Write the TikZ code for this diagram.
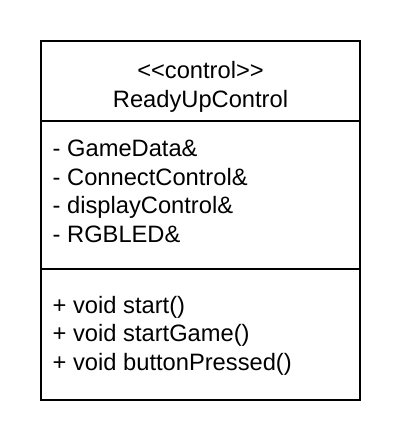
\documentclass[tikz,border=0pt]{standalone}
\usepackage{fontspec}
\setmainfont{Liberation Sans}
\begin{document}
\begin{tikzpicture}[x=1pt,y=-1pt,
  umltext/.style={inner sep=0pt,font=\fontsize{23.7}{28.5}\selectfont},
  member/.style={umltext,anchor=base west},
  title/.style={umltext,anchor=base},
  boxline/.style={line width=2pt,draw=black}]
\useasboundingbox (0,0) rectangle (404,448);
\draw[boxline] (41,41) rectangle (360,400);
\coordinate (d1l) at (41,120.5);
\coordinate (d1r) at (360,120.5);
\coordinate (d2l) at (41,268.5);
\coordinate (d2r) at (360,268.5);
\draw[boxline] (d1l) -- (d1r);
\draw[boxline] (d2l) -- (d2r);
\node[title] (stereo) at (200.5,78.8) {{<}{<}control{>}{>}};
\node[title] (name) at (200.5,107.3) {ReadyUpControl};
\node[member] (a1) at (52.5,156.7) {- GameData\&};
\node[member] (a2) at (52.5,185.2) {- ConnectControl\&};
\node[member] (a3) at (52.5,213.7) {- displayControl\&};
\node[member] (a4) at (52.5,242.2) {- RGBLED\&};
\node[member] (m1) at (52.5,313.3) {+ void start()};
\node[member] (m2) at (52.5,341.8) {+ void startGame()};
\node[member] (m3) at (52.5,370.3) {+ void buttonPressed()};
\end{tikzpicture}
\end{document}
